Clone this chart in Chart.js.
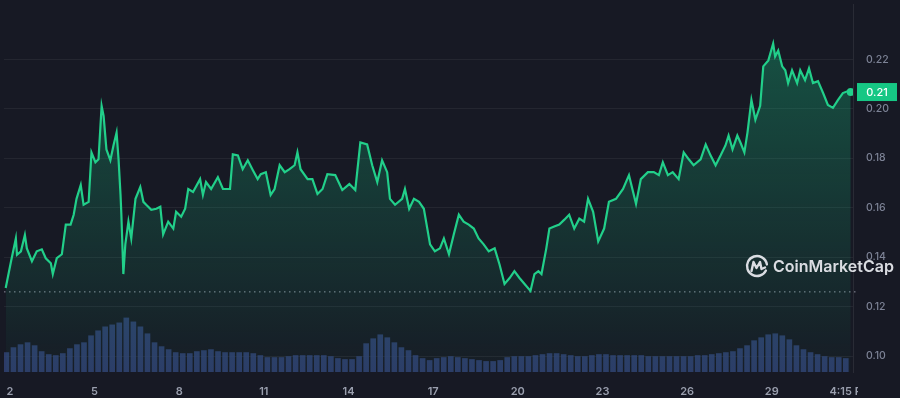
<!DOCTYPE html>
<html>
<head>
<meta charset="utf-8">
<script src="https://cdn.jsdelivr.net/npm/chart.js@4.4.1/dist/chart.umd.min.js"></script>
<style>
  html, body { margin: 0; padding: 0; background: #171924; }
  #wrap { width: 900px; height: 398px; position: relative; }
</style>
</head>
<body>
<div id="wrap"><canvas id="chart"></canvas></div>
<script>
// price, time in days of the month
const days = [
  1.85, 2.04, 2.21, 2.25, 2.39, 2.53, 2.60, 2.78, 2.95, 3.13,
  3.27, 3.45, 3.52, 3.66, 3.84, 3.98, 4.15, 4.26, 4.36, 4.51,
  4.61, 4.79, 4.89, 5.03, 5.14, 5.25, 5.32, 5.42, 5.56, 5.67,
  5.78, 5.85, 5.92, 5.95, 6.02, 6.09, 6.20, 6.30, 6.45, 6.62,
  6.73, 6.83, 7.01, 7.19, 7.33, 7.43, 7.61, 7.79, 7.89, 8.07,
  8.21, 8.32, 8.49, 8.74, 8.84, 8.95, 9.13, 9.37, 9.55, 9.80,
  9.90, 10.08, 10.25, 10.43, 10.61, 10.78, 10.89, 11.07, 11.24, 11.38,
  11.56, 11.74, 11.91, 12.09, 12.19, 12.30, 12.55, 12.72, 12.90, 13.08,
  13.25, 13.53, 13.78, 14.03, 14.24, 14.42, 14.66, 14.84, 15.02, 15.19,
  15.37, 15.47, 15.65, 15.90, 16.00, 16.15, 16.32, 16.50, 16.67, 16.89,
  17.06, 17.24, 17.38, 17.56, 17.73, 17.91, 18.08, 18.26, 18.44, 18.61,
  18.79, 18.97, 19.18, 19.35, 19.53, 19.71, 19.88, 20.06, 20.24, 20.45,
  20.59, 20.73, 20.84, 21.01, 21.12, 21.29, 21.47, 21.65, 21.82, 22.00,
  22.18, 22.35, 22.49, 22.67, 22.85, 23.06, 23.23, 23.48, 23.73, 23.94,
  24.19, 24.36, 24.61, 24.82, 25.00, 25.14, 25.32, 25.49, 25.70, 25.88,
  26.06, 26.23, 26.48, 26.66, 26.83, 27.01, 27.19, 27.36, 27.47, 27.61,
  27.78, 27.89, 28.03, 28.14, 28.28, 28.42, 28.59, 28.70, 28.88, 29.05,
  29.12, 29.23, 29.37, 29.48, 29.58, 29.72, 29.90, 30.01, 30.18, 30.32,
  30.46, 30.64, 30.82, 30.99, 31.17, 31.35, 31.52, 31.70, 31.80
];
const prices = [
  0.1276, 0.1384, 0.1476, 0.1410, 0.1424, 0.1490, 0.1436, 0.1384, 0.1424, 0.1432,
  0.1396, 0.1376, 0.1332, 0.1396, 0.1412, 0.1532, 0.1532, 0.1572, 0.1636, 0.1692,
  0.1612, 0.1624, 0.1824, 0.1784, 0.1796, 0.2012, 0.1972, 0.1836, 0.1792, 0.1852,
  0.1904, 0.1796, 0.1652, 0.1572, 0.1332, 0.1452, 0.1544, 0.1476, 0.1636, 0.1684,
  0.1624, 0.1612, 0.1592, 0.1596, 0.1604, 0.1492, 0.1544, 0.1516, 0.1584, 0.1564,
  0.1596, 0.1676, 0.1664, 0.1716, 0.1652, 0.1704, 0.1676, 0.1724, 0.1676, 0.1676,
  0.1816, 0.1812, 0.1756, 0.1792, 0.1752, 0.1716, 0.1736, 0.1744, 0.1652, 0.1676,
  0.1772, 0.1744, 0.1756, 0.1772, 0.1824, 0.1756, 0.1716, 0.1716, 0.1656, 0.1676,
  0.1736, 0.1732, 0.1672, 0.1696, 0.1672, 0.1864, 0.1856, 0.1772, 0.1704, 0.1792,
  0.1744, 0.1636, 0.1612, 0.1636, 0.1676, 0.1596, 0.1636, 0.1624, 0.1596, 0.1452,
  0.1424, 0.1436, 0.1476, 0.1412, 0.1492, 0.1572, 0.1544, 0.1532, 0.1516, 0.1476,
  0.1452, 0.1424, 0.1436, 0.1372, 0.1292, 0.1316, 0.1344, 0.1316, 0.1292, 0.1264,
  0.1332, 0.1344, 0.1332, 0.1436, 0.1516, 0.1524, 0.1532, 0.1552, 0.1572, 0.1516,
  0.1556, 0.1544, 0.1636, 0.1584, 0.1464, 0.1516, 0.1624, 0.1636, 0.1676, 0.1732,
  0.1616, 0.1716, 0.1744, 0.1744, 0.1732, 0.1784, 0.1732, 0.1744, 0.1716, 0.1824,
  0.1796, 0.1772, 0.1796, 0.1856, 0.1812, 0.1772, 0.1812, 0.1852, 0.1892, 0.1836,
  0.1892, 0.1864, 0.1824, 0.1904, 0.2036, 0.1956, 0.2012, 0.2172, 0.2196, 0.2264,
  0.2212, 0.2236, 0.2172, 0.2156, 0.2104, 0.2156, 0.2104, 0.2156, 0.2116, 0.2164,
  0.2104, 0.2112, 0.2064, 0.2016, 0.2004, 0.2036, 0.2064, 0.2072, 0.2068
];

// volume, one bar per 6 hour bucket (relative units)
const volStart = 1.875, volStep = 0.25;
const volumes = [
  20, 25, 28, 30, 27, 21, 18, 17, 19, 24,
  28, 30, 37, 42, 46, 48, 50, 55, 51, 46,
  39, 30, 26, 23, 20, 19, 19, 21, 22, 23,
  21, 20, 20, 20, 20, 19, 17, 15, 15, 15,
  16, 17, 17, 17, 17, 17, 16, 14, 13, 13,
  16, 29, 34, 38, 35, 30, 25, 22, 17, 14,
  12, 14, 15, 16, 15, 14, 13, 12, 11, 11,
  12, 15, 16, 16, 16, 17, 18, 19, 19, 18,
  17, 16, 16, 17, 18, 18, 17, 17, 17, 17,
  17, 16, 16, 16, 16, 16, 16, 16, 17, 17,
  18, 19, 20, 21, 24, 27, 32, 35, 38, 39,
  37, 33, 27, 23, 20, 18, 16, 15, 15, 14
];

const refPrice = 0.126;
const yTicks = [0.10, 0.12, 0.14, 0.16, 0.18, 0.20, 0.22];
const xTickDays = [2, 5, 8, 11, 14, 17, 20, 23, 26, 29, 31.8];
const xTickLabels = ["2", "5", "8", "11", "14", "17", "20", "23", "26", "29", "4:15 PM"];

const BG = "#171924";
const GREEN = "#22cf8a";

const pricePoints = days.map((d, i) => ({ x: d, y: prices[i] }));
const volPoints = volumes.map((v, i) => ({ x: volStart + i * volStep, y: v }));
const last = prices.length - 1;

const overlay = {
  id: "overlay",
  beforeDatasetsDraw(chart) {
    const { ctx, chartArea, scales } = chart;
    const y = scales.y.getPixelForValue(refPrice);
    ctx.save();
    ctx.strokeStyle = "rgba(190,195,210,0.7)";
    ctx.lineWidth = 1;
    ctx.setLineDash([1.5, 3.5]);
    ctx.beginPath();
    ctx.moveTo(chartArea.left, y);
    ctx.lineTo(chartArea.right + 6, y);
    ctx.stroke();
    ctx.restore();
  },
  afterDraw(chart) {
    const { ctx, chartArea, scales } = chart;
    ctx.save();
    // right panel hides the overflowing time label
    ctx.fillStyle = BG;
    ctx.fillRect(chartArea.right + 5, chartArea.bottom + 1, chart.width, chart.height);

    // last price tag
    const ty = scales.y.getPixelForValue(prices[last]);
    ctx.fillStyle = "#16c784";
    ctx.fillRect(chartArea.right + 4, ty - 9, 40, 18);
    ctx.fillStyle = "#ffffff";
    ctx.font = "500 11px Inter, 'Noto Sans', sans-serif";
    ctx.textAlign = "center";
    ctx.textBaseline = "middle";
    ctx.fillText(prices[last].toFixed(2), chartArea.right + 24, ty + 0.5);

    // watermark
    const cx = chartArea.right - 96, cy = chart.height - 132;
    ctx.strokeStyle = "rgba(235,237,242,0.92)";
    ctx.lineWidth = 2.4;
    ctx.lineCap = "round";
    ctx.lineJoin = "round";
    ctx.beginPath();
    ctx.arc(cx, cy, 10, 0.15 * Math.PI, 1.95 * Math.PI);
    ctx.stroke();
    ctx.beginPath();
    ctx.moveTo(cx - 5.5, cy + 5);
    ctx.lineTo(cx - 3.5, cy - 4);
    ctx.lineTo(cx - 0.5, cy + 2);
    ctx.lineTo(cx + 3, cy - 4);
    ctx.lineTo(cx + 4.5, cy + 3);
    ctx.lineTo(cx + 8, cy + 1.5);
    ctx.stroke();
    ctx.fillStyle = "rgba(235,237,242,0.92)";
    ctx.font = "600 16px Inter, 'Noto Sans', sans-serif";
    ctx.textAlign = "left";
    ctx.textBaseline = "middle";
    ctx.fillText("CoinMarketCap", cx + 16, cy + 1);
    ctx.restore();
  }
};

new Chart(document.getElementById("chart"), {
  data: {
    datasets: [
      {
        type: "line",
        label: "Price",
        data: pricePoints,
        yAxisID: "y",
        borderColor: GREEN,
        borderWidth: 2.2,
        tension: 0,
        fill: "start",
        backgroundColor(context) {
          const { ctx, chartArea } = context.chart;
          if (!chartArea) return "rgba(22,199,132,0.2)";
          const g = ctx.createLinearGradient(0, chartArea.top + 40, 0, chartArea.bottom);
          g.addColorStop(0, "rgba(22,199,132,0.32)");
          g.addColorStop(1, "rgba(22,199,132,0.02)");
          return g;
        },
        pointRadius: ctx => ctx.dataIndex === last ? 4 : 0,
        pointBackgroundColor: GREEN,
        pointBorderWidth: 0,
        order: 1
      },
      {
        type: "bar",
        label: "Volume",
        data: volPoints,
        yAxisID: "yv",
        backgroundColor: "rgba(48,66,115,0.85)",
        barPercentage: 0.8,
        categoryPercentage: 1,
        order: 2
      }
    ]
  },
  options: {
    responsive: true,
    maintainAspectRatio: false,
    animation: false,
    layout: { padding: 0 },
    plugins: { legend: { display: false }, tooltip: { enabled: false } },
    scales: {
      x: {
        type: "linear",
        offset: false,
        min: 1.79,
        max: 31.88,
        grid: { display: false },
        border: { display: false },
        afterBuildTicks(scale) { scale.ticks = xTickDays.map(v => ({ value: v })); },
        afterFit(scale) {
          scale.height = 26;
          scale.paddingLeft = 0;
          scale.paddingRight = 0;
        },
        ticks: {
          autoSkip: false,
          maxRotation: 0,
          padding: 5,
          color: "#9a9fae",
          font: { family: "Inter, 'Noto Sans', sans-serif", size: 11, weight: "600" },
          callback: (v, i) => xTickLabels[i]
        }
      },
      y: {
        position: "right",
        min: 0.0936,
        max: 0.2424,
        afterBuildTicks(scale) { scale.ticks = yTicks.map(v => ({ value: v })); },
        afterFit(scale) {
          scale.width = 47;
          scale.paddingTop = 0;
          scale.paddingBottom = 0;
        },
        grid: { color: "rgba(255,255,255,0.06)", drawTicks: true, tickLength: 13, tickColor: "transparent" },
        border: { display: true, color: "rgba(255,255,255,0.08)" },
        ticks: {
          padding: 0,
          color: "#7d8396",
          font: { family: "Inter, 'Noto Sans', sans-serif", size: 10.5, weight: "500" },
          callback: v => v.toFixed(2)
        }
      },
      yv: {
        display: false,
        min: 0,
        max: 372
      }
    }
  },
  plugins: [overlay]
});
</script>
</body>
</html>
